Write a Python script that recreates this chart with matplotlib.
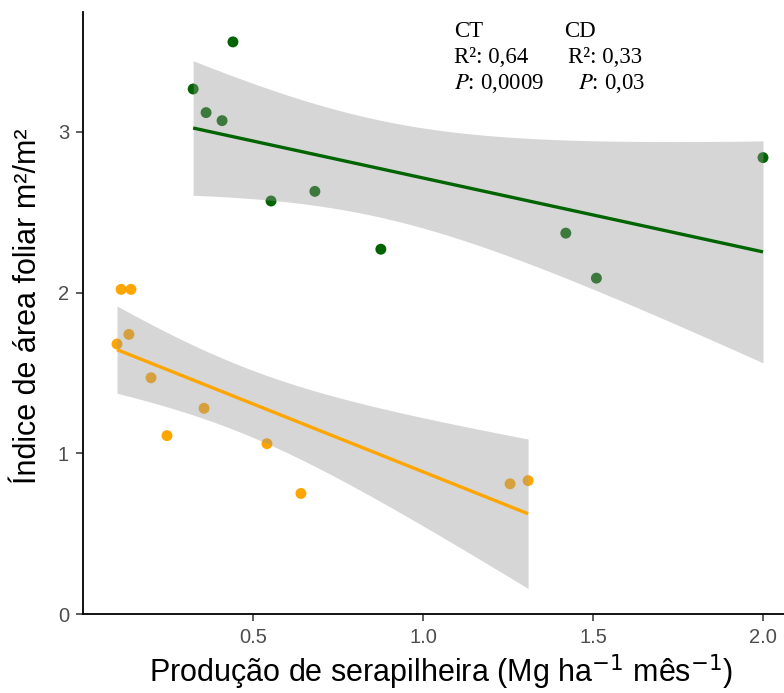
import numpy as np
import matplotlib
matplotlib.use("Agg")
import matplotlib.pyplot as plt

# Data
ct_x = [0.324, 0.441, 0.362, 0.409, 0.553, 0.682, 0.876, 1.42, 1.51, 2.00]
ct_y = [3.267, 3.56, 3.12, 3.07, 2.57, 2.63, 2.27, 2.37, 2.09, 2.84]
cd_x = [0.100, 0.112, 0.141, 0.135, 0.200, 0.247, 0.356, 0.541, 0.641, 1.256, 1.309]
cd_y = [1.68, 2.02, 2.02, 1.74, 1.47, 1.11, 1.28, 1.06, 0.75, 0.81, 0.83]
t_quant = {8: 2.306, 9: 2.262}

x_ticks = [0.5, 1.0, 1.5, 2.0]
y_ticks = [0, 1, 2, 3]

GREEN = "#006400"
ORANGE = "#FFA500"

fig = plt.figure(figsize=(7.84, 6.93), dpi=100)
ax = fig.add_axes([83/784, 1-614/693, 1-83/784, (614-12)/693])

def fit_band(x, y):
    x = np.asarray(x); y = np.asarray(y)
    n = len(x)
    b, a = np.polyfit(x, y, 1)
    xs = np.linspace(x.min(), x.max(), 80)
    yhat = a + b*xs
    resid = y - (a + b*x)
    s = np.sqrt(np.sum(resid**2)/(n-2))
    se = s*np.sqrt(1/n + (xs-x.mean())**2/np.sum((x-x.mean())**2))
    t = t_quant[n-2]
    return xs, yhat, yhat - t*se, yhat + t*se

for xv, yv, col in [(ct_x, ct_y, GREEN), (cd_x, cd_y, ORANGE)]:
    ax.scatter(xv, yv, s=62, color=col, edgecolors="none", zorder=2)

for xv, yv, col in [(ct_x, ct_y, GREEN), (cd_x, cd_y, ORANGE)]:
    xs, yh, lo, hi = fit_band(xv, yv)
    ax.fill_between(xs, lo, hi, color="#999999", alpha=0.4, linewidth=0, zorder=3)
    ax.plot(xs, yh, color=col, lw=2.4, zorder=4, solid_capstyle="butt")

ax.set_xlim(0.0, (784-83)/340)
ax.set_ylim(0, (614-12)/160.7)
ax.set_xticks(x_ticks)
ax.set_xticklabels([f"{v:.1f}" for v in x_ticks])
ax.set_yticks(y_ticks)
ax.set_yticklabels([str(v) for v in y_ticks])

for s in ["top", "right"]:
    ax.spines[s].set_visible(False)
for s in ["left", "bottom"]:
    ax.spines[s].set_linewidth(1.3)
    ax.spines[s].set_color("black")
ax.tick_params(axis="both", length=5, width=1.1, color="#333333",
               labelcolor="#4D4D4D", labelsize=14.5, pad=5)
for lab in ax.get_xticklabels() + ax.get_yticklabels():
    lab.set_family(["Liberation Sans", "DejaVu Sans"])

fig.text(441/784, 1-672/693, r"Produção de serapilheira (Mg ha$^{-1}$ mês$^{-1}$)",
         ha="center", va="center", fontsize=22, family=["Liberation Sans", "DejaVu Sans"])
fig.text(28/784, 1-306/693, "Índice de área foliar m²/m²", rotation=90,
         ha="center", va="center", fontsize=22, family=["Liberation Sans", "DejaVu Sans"])

serif = ["Liberation Serif", "DejaVu Serif"]
fs = 16.5
fig.text(454/784, 1-37/693, "CT", fontsize=fs, family=serif, va="baseline")
fig.text(564/784, 1-37/693, "CD", fontsize=fs, family=serif, va="baseline")
fig.text(454/784, 1-63/693, "R²: 0,64", fontsize=fs, family=serif, va="baseline")
fig.text(568/784, 1-63/693, "R²: 0,33", fontsize=fs, family=serif, va="baseline")
fig.text(454/784, 1-89/693, r"$\mathit{P}$: 0,0009", fontsize=fs, family=serif, va="baseline",
         math_fontfamily="stix")
fig.text(578/784, 1-89/693, r"$\mathit{P}$: 0,03", fontsize=fs, family=serif, va="baseline",
         math_fontfamily="stix")

fig.savefig("out.png", dpi=100)
